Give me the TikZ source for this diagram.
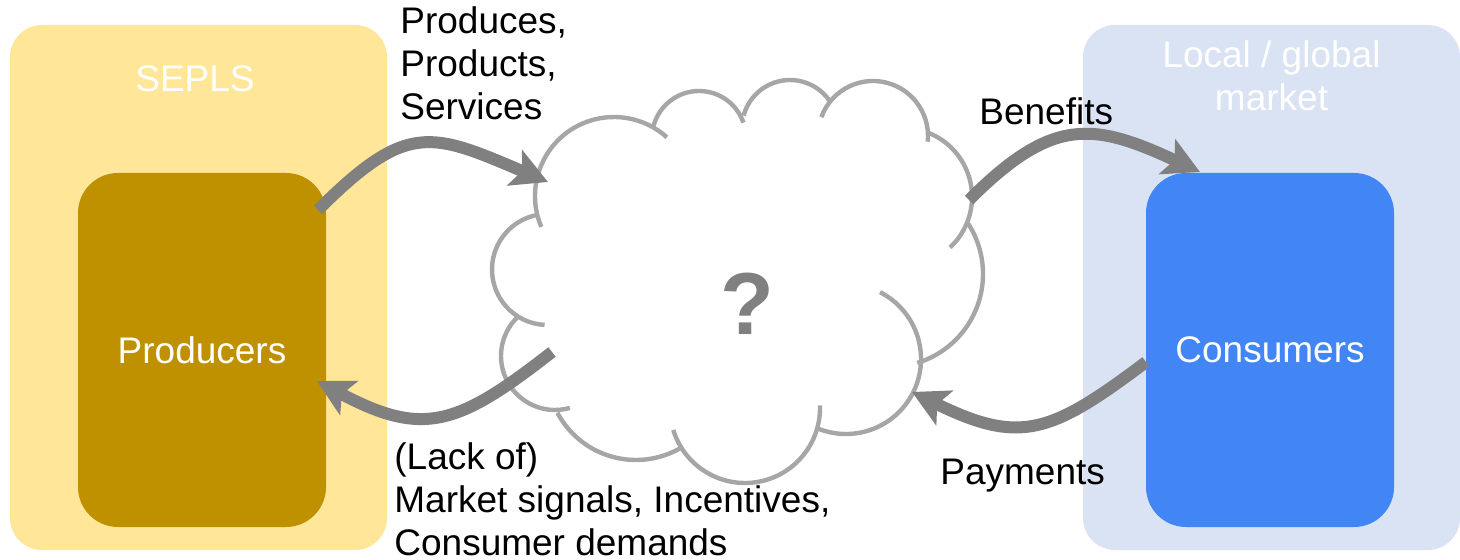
\documentclass[tikz,border=0pt]{standalone}
\usepackage{fontspec}
\setmainfont{Liberation Sans}
\usetikzlibrary{arrows.meta}

\definecolor{seplsyellow}{RGB}{255,230,153}
\definecolor{prodgold}{RGB}{191,144,0}
\definecolor{marketblue}{RGB}{218,227,243}
\definecolor{consblue}{RGB}{66,133,244}
\definecolor{flowgray}{RGB}{128,128,128}
\definecolor{cloudgray}{RGB}{166,166,166}

\tikzset{
  area/.style={rounded corners=16pt, minimum width=188.5pt, minimum height=262.5pt, inner sep=0pt, outer sep=0pt},
  actor/.style={rounded corners=20pt, minimum width=124pt, minimum height=177pt, inner sep=0pt, outer sep=0pt, text=white},
  lbl/.style={inner sep=0pt},
  flow/.style={flowgray, line width=6pt, -{Stealth[length=18pt,width=19pt,inset=4pt]}},
  cloudline/.style={cloudgray, line width=2.2pt},
}

\begin{document}
\begin{tikzpicture}[x=0.5pt,y=-0.5pt,every node/.style={font=\fontsize{18.5}{21.5}\selectfont}]
 \useasboundingbox (0,0) rectangle (1460,560);
 % areas and actors
 \node[area,fill=seplsyellow] (sepls) at (198.5,287.5) {};
 \node[area,fill=marketblue] (market) at (1271.5,287.5) {};
 \node[lbl,text=white] (seplslabel) at (195,78.5) {SEPLS};
 \node[lbl,text=white,align=center,anchor=base] (marketlabel) at (1271.5,111) {Local / global\\market};
 \node[actor,fill=prodgold] (prod) at (202,350) {Producers};
 \node[actor,fill=consblue] (cons) at (1270,350) {Consumers};
 % cloud lobes: centre x / centre y / radius / start / end
 \foreach \cx/\cy/\r/\s/\e in {614/196/79/157/312, 699/138/47/192/341, 790/128/48/195/325,
   873/136/55/200/366, 903/197/69/290/407, 890/274/93/327/433, 846/359/75/297/472,
   745/408/75/-2/163, 636/371/89/60/152, 555/356/54/74/226, 547.5/269.5/55.5/93/259}
   \draw[cloudline] (\cx,\cy) ++(\s:\r) arc[start angle=\s, end angle=\e, radius=\r];
 \node[lbl,text=flowgray,font=\fontsize{44}{44}\selectfont\bfseries] (unknown) at (747,304) {?};
 % flows
 \coordinate (prodout) at (318,210);
 \coordinate (cloudin) at (548,182);
 \coordinate (cloudout) at (552,352);
 \coordinate (prodin) at (317,381);
 \coordinate (cloudgive) at (969,200);
 \coordinate (consin) at (1200,172);
 \coordinate (consout) at (1146,362);
 \coordinate (cloudget) at (912,392);
 \draw[flow] (prodout) to[out=45,in=157,looseness=1.4] (cloudin);
 \draw[flow] (cloudout) to[out=218,in=-28,looseness=1.3] (prodin);
 \draw[flow] (cloudgive) to[out=45,in=155,looseness=1.3] (consin);
 \draw[flow] (consout) to[out=217,in=-26,looseness=1.3] (cloudget);
 % labels
 \node[lbl,anchor=base west,align=left] (supply) at (400,120) {Produces,\\Products,\\Services};
 \node[lbl,anchor=base west,align=left] (signals) at (394,555) {(Lack of)\\Market signals, Incentives,\\Consumer demands};
 \node[lbl,anchor=base west] (benefits) at (979,125) {Benefits};
 \node[lbl,anchor=base west] (payments) at (940,485) {Payments};
\end{tikzpicture}
\end{document}
